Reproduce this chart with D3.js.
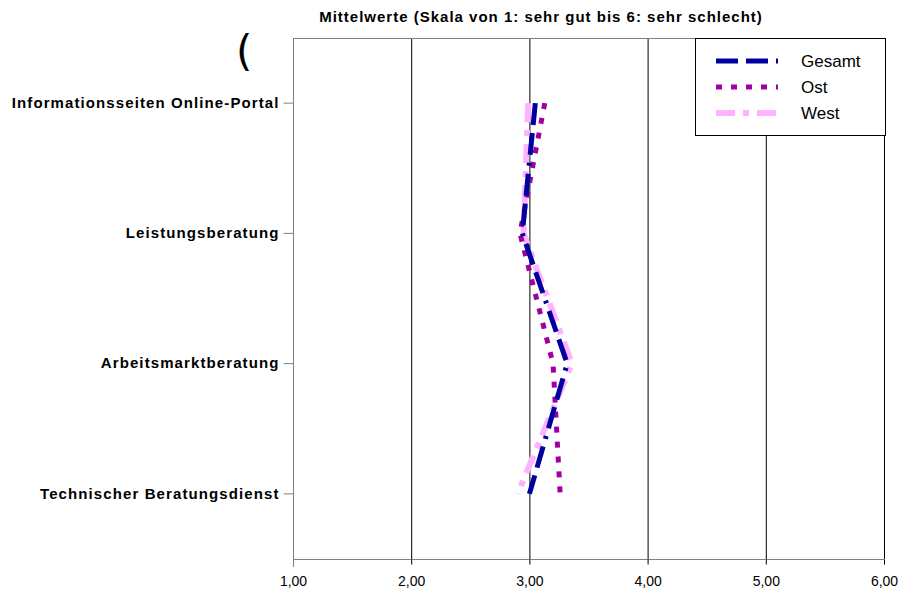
<!DOCTYPE html>
<html lang="de">
<head>
<meta charset="utf-8">
<title>Mittelwerte</title>
<script src="https://d3js.org/d3.v7.min.js"></script>
<style>
  body { margin: 0; background: #fff; font-family: "Liberation Sans", Arial, sans-serif; }
  svg { display: block; }
</style>
</head>
<body>
<svg width="904" height="597"></svg>
<script>
// categories (top to bottom)
var categories = ['Informationsseiten Online-Portal', 'Leistungsberatung', 'Arbeitsmarktberatung', 'Technischer Beratungsdienst'];

// mean values per series
var gesamt = [3.05, 2.94, 3.32, 3.00];
var ost    = [3.13, 2.92, 3.20, 3.26];
var west   = [2.99, 2.95, 3.36, 2.90];

var xTicks = [1, 2, 3, 4, 5, 6];

var series = [
  { name: 'Gesamt', values: gesamt, color: '#0000a0', width: 5, dash: '22,8,22,8,3,8' },
  { name: 'Ost',    values: ost,    color: '#a000a0', width: 5, dash: '6,9' },
  { name: 'West',   values: west,   color: '#ffb3ff', width: 6, dash: '19,8,6,8' }
];

var svg = d3.select('svg');
var plotLeft = 293, plotRight = 884, plotTop = 38, plotBottom = 559;

var x = d3.scaleLinear().domain([1, 6]).range([plotLeft, plotRight]);
var y = d3.scaleBand().domain(categories).range([plotTop, plotBottom]);
function yc(c) { return y(c) + y.bandwidth() / 2; }

// title
svg.append('text')
  .attr('x', 541).attr('y', 22)
  .attr('text-anchor', 'middle')
  .style('font-size', '15px').style('font-weight', 'bold')
  .style('letter-spacing', '1px')
  .text('Mittelwerte (Skala von 1: sehr gut bis 6: sehr schlecht)');

svg.append('text')
  .attr('x', 236).attr('y', 66)
  .style('font-size', '42px').style('font-family', '"DejaVu Sans", sans-serif')
  .text('(');

// gridlines
svg.append('g').selectAll('line')
  .data(xTicks.slice(1))
  .enter().append('line')
  .attr('x1', function(d) { return x(d) + 0.5; })
  .attr('x2', function(d) { return x(d) + 0.5; })
  .attr('y1', plotTop).attr('y2', plotBottom)
  .attr('stroke', '#000').attr('stroke-width', 1);

// top border
svg.append('line')
  .attr('x1', plotLeft).attr('x2', plotRight).attr('y1', plotTop + 0.5).attr('y2', plotTop + 0.5)
  .attr('stroke', '#808080').attr('stroke-width', 1);

// x axis
var xAxis = d3.axisBottom(x)
  .tickValues(xTicks)
  .tickSize(5)
  .tickFormat(function(d) { return d3.format('.2f')(d).replace('.', ','); });

var gx = svg.append('g')
  .attr('transform', 'translate(0,' + (plotBottom + 0.5) + ')')
  .call(xAxis);
gx.select('.domain').attr('stroke', '#808080').attr('d', 'M' + plotLeft + ',0H' + plotRight);
gx.selectAll('.tick line').attr('stroke', '#000');
gx.selectAll('.tick text')
  .attr('y', 17)
  .style('font-size', '14px').style('font-family', '"Liberation Sans", Arial, sans-serif')
  .attr('fill', '#000');

// y axis
var yAxis = d3.axisLeft(y).tickSize(10).tickPadding(4);
var gy = svg.append('g')
  .attr('transform', 'translate(' + (plotLeft + 0.5) + ',0)')
  .call(yAxis);
gy.select('.domain').attr('stroke', '#808080').attr('d', 'M0,' + plotTop + 'V' + (plotBottom + 8));
gy.selectAll('.tick line').attr('stroke', '#808080');
gy.selectAll('.tick text')
  .style('font-size', '15px').style('font-weight', 'bold')
  .style('letter-spacing', '1.1px')
  .style('font-family', '"Liberation Sans", Arial, sans-serif')
  .attr('fill', '#000');

// series lines (West at the back, Gesamt on top)
var line = d3.line()
  .x(function(d) { return x(d.v); })
  .y(function(d) { return yc(d.c); });

series.slice().reverse().forEach(function(s) {
  var pts = categories.map(function(c, i) { return { c: c, v: s.values[i] }; });
  svg.append('path')
    .datum(pts)
    .attr('d', line)
    .attr('fill', 'none')
    .attr('stroke', s.color)
    .attr('stroke-width', s.width)
    .attr('stroke-dasharray', s.dash);
});

// legend
var lg = svg.append('g');
lg.append('rect')
  .attr('x', 695.5).attr('y', 38.5).attr('width', 190).attr('height', 97)
  .attr('fill', '#fff').attr('stroke', '#000');

var items = lg.selectAll('g.item')
  .data(series)
  .enter().append('g')
  .attr('transform', function(d, i) { return 'translate(0,' + (61 + i * 26) + ')'; });

items.append('line')
  .attr('x1', 716).attr('x2', 778)
  .attr('stroke', function(d) { return d.color; })
  .attr('stroke-width', function(d) { return d.width; })
  .attr('stroke-dasharray', function(d) { return d.dash; });

items.append('text')
  .attr('x', 801).attr('y', 6)
  .style('font-size', '17px')
  .text(function(d) { return d.name; });
</script>
</body>
</html>
